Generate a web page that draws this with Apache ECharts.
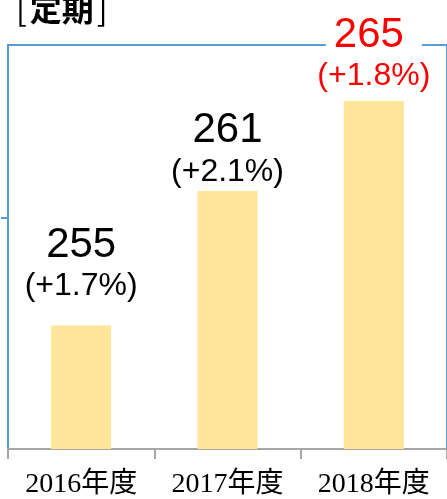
<!DOCTYPE html>
<html>
<head>
<meta charset="utf-8">
<script src="https://cdn.jsdelivr.net/npm/echarts@6/dist/echarts.min.js"></script>
<style>
  html, body { margin: 0; padding: 0; background: #fff; }
  #chart { width: 447px; height: 499px; }
</style>
</head>
<body>
<div id="chart"></div>
<script>
// 年度・値・前年比
const years = ['2016年度', '2017年度', '2018年度'];
const values = [255, 261, 265];
const growth = ['+1.7%', '+2.1%', '+1.8%'];
// ラベルとバーの間隔（見た目合わせ）
const labelGap = [20, 0, 6];

const chart = echarts.init(document.getElementById('chart'));

const barData = values.map((v, i) => {
  const last = i === values.length - 1;
  return {
    value: v,
    label: {
      distance: labelGap[i],
      formatter: '{v|' + v + '}\n{p|(' + growth[i] + ')}',
      rich: {
        v: {
          fontSize: 42, lineHeight: 44, fontFamily: 'Liberation Sans, Arial',
          color: last ? '#FF0000' : '#000',
          backgroundColor: last ? '#fff' : 'transparent',
          padding: last ? [0, 18, 0, 8] : 0
        },
        p: {
          fontSize: 32, lineHeight: 38, fontFamily: 'Liberation Sans, Arial',
          color: last ? '#FF0000' : '#000'
        }
      }
    }
  };
});

chart.setOption({
  animation: false,
  title: {
    text: '{b|[}{t|定期}{b|]}',
    left: 8,
    top: -12,
    textStyle: {
      rich: {
        b: { fontSize: 32, fontWeight: 'normal', color: '#000', fontFamily: 'Noto Sans CJK JP', padding: [0, 3] },
        t: { fontSize: 32, fontWeight: 'bold', color: '#000', fontFamily: 'Noto Sans CJK JP' }
      }
    }
  },
  grid: {
    left: 8, top: 45, width: 447, height: 405,
    show: true, borderColor: '#5B9BD5', borderWidth: 2, backgroundColor: 'transparent'
  },
  xAxis: {
    type: 'category',
    data: years,
    axisLine: { lineStyle: { color: '#A6A6A6', width: 2 } },
    axisTick: { show: true, length: 10, lineStyle: { color: '#A6A6A6', width: 2 } },
    axisLabel: {
      margin: 22, fontSize: 28, color: '#000',
      fontFamily: 'Liberation Serif, Noto Sans CJK JP'
    }
  },
  yAxis: {
    type: 'value',
    min: 249.5,
    max: 267.5,
    axisLine: { show: false },
    axisLabel: { show: false },
    splitLine: { show: false },
    axisTick: {
      show: true, length: 7, customValues: [259.8],
      lineStyle: { color: '#5B9BD5', width: 2 }
    }
  },
  series: [{
    type: 'bar',
    data: barData,
    barWidth: 60,
    itemStyle: { color: '#FFE699' },
    label: { show: true, position: 'top', align: 'center' }
  }]
});
</script>
</body>
</html>
